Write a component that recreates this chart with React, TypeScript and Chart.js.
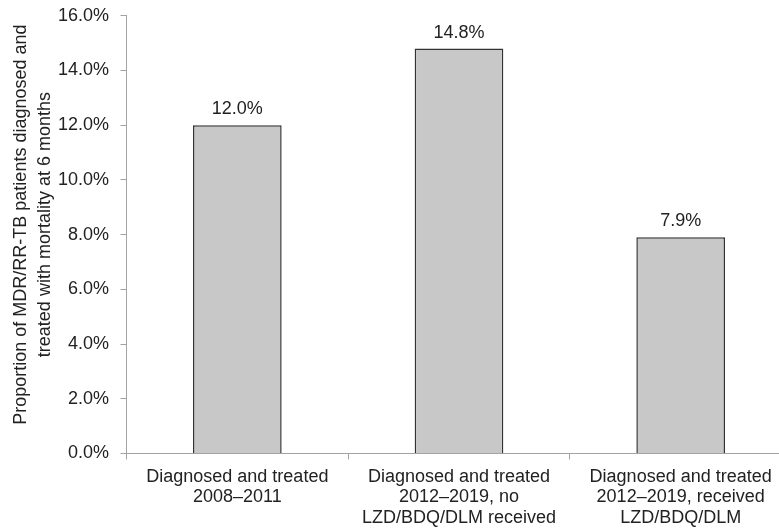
import React, { useEffect, useRef } from "react";
import { Chart, registerables } from "chart.js";

Chart.register(...registerables);

const categories: string[][] = [
  ["Diagnosed and treated", "2008\u20132011"],
  ["Diagnosed and treated", "2012\u20132019, no", "LZD/BDQ/DLM received"],
  ["Diagnosed and treated", "2012\u20132019, received", "LZD/BDQ/DLM"],
];
const mortality: number[] = [12.0, 14.8, 7.9];
const valueLabels: string[] = ["12.0%", "14.8%", "7.9%"];
const yTitleLines: string[] = [
  "Proportion of MDR/RR-TB patients diagnosed and",
  "treated with mortality at 6 months",
];

const FONT = "'Liberation Sans', Arial, sans-serif";
const TEXT = "#222222";
const AXIS = "#a3a3a3";

const valueLabelPlugin = {
  id: "valueLabels",
  afterDatasetsDraw(chart: any) {
    const ctx = chart.ctx;
    const meta = chart.getDatasetMeta(0);
    ctx.save();
    ctx.font = `18px ${FONT}`;
    ctx.fillStyle = TEXT;
    ctx.textAlign = "center";
    ctx.textBaseline = "alphabetic";
    meta.data.forEach((bar: any, i: number) => {
      ctx.fillText(valueLabels[i], bar.x, bar.y - 11);
    });
    ctx.restore();
  },
};

const yTitlePlugin = {
  id: "yTitle",
  afterDraw(chart: any) {
    const ctx = chart.ctx;
    const area = chart.chartArea;
    const cy = (area.top + area.bottom) / 2 - 10;
    ctx.save();
    ctx.font = `18px ${FONT}`;
    ctx.fillStyle = TEXT;
    ctx.textAlign = "center";
    ctx.textBaseline = "alphabetic";
    ctx.translate(0, cy);
    ctx.rotate(-Math.PI / 2);
    yTitleLines.forEach((line, i) => {
      ctx.fillText(line, 0, 26 + i * 24);
    });
    ctx.restore();
  },
};

export default function App() {
  const canvasRef = useRef<HTMLCanvasElement | null>(null);

  useEffect(() => {
    if (!canvasRef.current) return;
    const chart = new Chart(canvasRef.current, {
      type: "bar",
      data: {
        labels: categories as any,
        datasets: [
          {
            data: mortality,
            backgroundColor: "#c8c8c8",
            borderColor: "#333333",
            borderWidth: 1.5,
            borderSkipped: "bottom",
            categoryPercentage: 1,
            barPercentage: 0.4,
          },
        ],
      },
      options: {
        animation: false,
        responsive: true,
        maintainAspectRatio: false,
        layout: { padding: { top: 15.7, right: 8.5, bottom: 0, left: 0 } },
        plugins: {
          legend: { display: false },
          tooltip: { enabled: false },
        },
        scales: {
          x: {
            afterFit: (scale: any) => {
              scale.height = 76.5;
              scale.paddingLeft = 0;
              scale.paddingRight = 0;
            },
            grid: {
              display: true,
              drawOnChartArea: false,
              drawTicks: true,
              tickLength: 6,
              color: AXIS,
              offset: true,
            },
            border: { display: true, color: AXIS, width: 1 },
            ticks: {
              color: TEXT,
              padding: 7,
              maxRotation: 0,
              autoSkip: false,
              font: { family: FONT, size: 18, lineHeight: 1.14 },
            },
          },
          y: {
            min: 0,
            max: 16,
            afterFit: (scale: any) => {
              scale.width = 126.5;
              scale.paddingTop = 0;
              scale.paddingBottom = 0;
            },
            grid: {
              display: true,
              drawOnChartArea: false,
              drawTicks: true,
              tickLength: 6,
              color: AXIS,
            },
            border: { display: true, color: AXIS, width: 1 },
            ticks: {
              stepSize: 2,
              color: TEXT,
              padding: 11.5,
              font: { family: FONT, size: 18 },
              callback: (v: any) => Number(v).toFixed(1) + "%",
            },
          },
        },
      },
      plugins: [valueLabelPlugin, yTitlePlugin],
    });
    return () => chart.destroy();
  }, []);

  return (
    <div
      style={{
        position: "fixed",
        left: 0,
        top: 0,
        width: 779,
        height: 530,
        overflow: "hidden",
        background: "#ffffff",
      }}
    >
      <div style={{ position: "absolute", left: 0, top: 0, width: 800, height: 530 }}>
        <canvas ref={canvasRef} />
      </div>
    </div>
  );
}
